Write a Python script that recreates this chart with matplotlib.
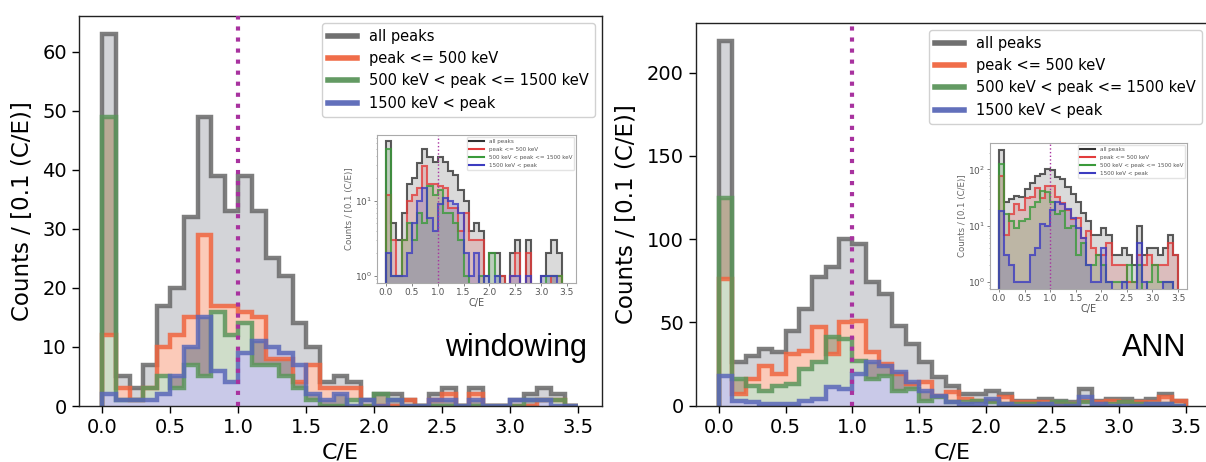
import numpy as np
import matplotlib
matplotlib.use("Agg")
import matplotlib.pyplot as plt
from matplotlib.lines import Line2D
from itertools import combinations

# ---------------- data ----------------
bin_width = 0.1
n_bins = 35
series_labels = ["all peaks", "peak <= 500 keV", "500 keV < peak <= 1500 keV", "1500 keV < peak"]
panel_tags = ["windowing", "ANN"]
ylabel = "Counts / [0.1 (C/E)]"
xlabel = "C/E"
ce_marker = 1.0

win_all = [63, 5, 3, 7, 17, 20, 32, 49, 39, 33, 39, 33, 25, 22, 14, 10, 4, 5, 4, 1,
           2, 2, 1, 0, 2, 3, 0, 3, 0, 0, 1, 2, 3, 2, 0]
win_low = [12, 3, 1, 3, 10, 12, 15, 29, 17, 17, 16, 15, 8, 8, 4, 7, 3, 3, 3, 0,
           0, 0, 1, 0, 1, 2, 0, 2, 0, 0, 0, 0, 1, 1, 0]
win_mid = [49, 1, 1, 3, 5, 3, 7, 5, 16, 12, 14, 7, 7, 5, 3, 1, 0, 0, 1, 0,
           2, 1, 0, 0, 0, 0, 0, 0, 0, 0, 0, 1, 1, 1, 0]
win_high = [2, 1, 1, 1, 2, 5, 10, 15, 6, 4, 9, 11, 10, 9, 7, 2, 1, 2, 0, 1,
            0, 1, 0, 0, 1, 1, 0, 1, 0, 0, 1, 1, 1, 0, 0]

ann_all = [219, 26, 30, 34, 32, 45, 58, 77, 83, 100, 97, 74, 67, 48, 37, 26, 17, 12, 7, 7,
           9, 7, 3, 3, 4, 3, 2, 10, 3, 4, 4, 3, 4, 7, 3]
ann_low = [76, 7, 16, 24, 19, 31, 33, 47, 31, 50, 51, 32, 25, 19, 13, 14, 6, 8, 4, 3,
           3, 5, 2, 2, 2, 1, 1, 3, 2, 3, 2, 2, 2, 5, 3]
ann_mid = [125, 16, 12, 9, 12, 13, 22, 26, 41, 40, 27, 16, 18, 9, 10, 3, 5, 2, 2, 3,
           2, 1, 1, 1, 1, 2, 1, 2, 0, 1, 2, 1, 1, 1, 0]
ann_high = [18, 3, 2, 1, 1, 1, 3, 4, 11, 10, 19, 26, 24, 20, 14, 9, 6, 2, 1, 1,
            4, 1, 0, 0, 1, 0, 0, 5, 1, 0, 0, 0, 1, 1, 0]

# ---------------- style ----------------
EDGE = ["#686868", "#f0653f", "#5b955b", "#5a68b8"]
INSET_EDGE = ["#333333", "#e23c3c", "#3a9a3a", "#3c3cc0"]
REGION = {(): "#d3d4d8", (1,): "#fbcab9", (2,): "#b9aa95", (3,): "#c4c4e0",
          (1, 2): "#cfddc9", (1, 3): "#a6989c", (2, 3): "#b0a8b0",
          (1, 2, 3): "#c9c9e8"}
DOT = "#a8329f"

edges = np.arange(n_bins + 1) * bin_width

plt.rcParams["font.family"] = ["DejaVu Sans"]
fig = plt.figure(figsize=(12.06, 4.62), dpi=100)


def main_panel(rect, hists, tag, tag_xy):
    ax = fig.add_axes(rect)
    hs = [np.asarray(h, float) for h in hists]
    h_all = hs[0]
    parts = [1, 2, 3]
    for r in range(4):
        for S in combinations(parts, r):
            hi = h_all.copy()
            for s in S:
                hi = np.minimum(hi, hs[s])
            lo = np.zeros_like(hi)
            for s in parts:
                if s not in S:
                    lo = np.maximum(lo, hs[s])
            hi = np.maximum(hi, lo)
            ax.stairs(hi, edges, baseline=lo, fill=True, color=REGION[S],
                      lw=0, antialiased=False, zorder=1)
    for h, c in zip(hs, EDGE):
        ax.stairs(h, edges, baseline=0, color=c, lw=3.2, alpha=0.85, zorder=2)
    ax.axvline(ce_marker, color=DOT, ls=":", lw=3, zorder=5)
    ax.set_xlim(-0.05 * edges[-1], edges[-1] * 1.05)
    ax.set_ylim(0, h_all.max() * 1.05)
    ax.set_xticks(np.arange(0, 3.51, 0.5))
    ax.tick_params(labelsize=14, length=5, width=1)
    ax.set_xlabel(xlabel, fontsize=16, labelpad=4)
    ax.set_ylabel(ylabel, fontsize=16.5, labelpad=6)
    for sp in ax.spines.values():
        sp.set_linewidth(1.0)
        sp.set_color("#222222")
    handles = [Line2D([], [], color=c, lw=4, alpha=0.95) for c in EDGE]
    leg = ax.legend(handles, series_labels, loc="upper right", fontsize=10.5,
                    handlelength=2.0, framealpha=0.9, edgecolor="#cccccc")
    leg.set_zorder(6)
    fig.text(tag_xy[0], tag_xy[1], tag, fontsize=22, family="Liberation Sans",
             ha="right", va="baseline")
    return ax


def inset_panel(rect, hists, ylim):
    ax = fig.add_axes(rect)
    ax.set_yscale("log")
    floor = 1e-2
    for h, c in zip(hists, INSET_EDGE):
        v = np.where(np.asarray(h) > 0, np.asarray(h, float), floor)
        ax.stairs(v, edges, baseline=floor, fill=True, color=c, alpha=0.18, lw=0)
    for h, c in zip(hists, INSET_EDGE):
        v = np.where(np.asarray(h) > 0, np.asarray(h, float), floor)
        ax.stairs(v, edges, baseline=floor, color=c, lw=1.5, alpha=0.8)
    ax.axvline(ce_marker, color=DOT, ls=":", lw=1.0)
    ax.set_xlim(-0.05 * edges[-1], edges[-1] * 1.05)
    ax.set_ylim(*ylim)
    ax.set_xticks(np.arange(0, 3.51, 0.5))
    ax.tick_params(labelsize=6.5, length=2, width=0.5, colors="#555555", pad=1.5)
    ax.tick_params(which="minor", length=1, width=0.4, colors="#777777")
    ax.set_xlabel(xlabel, fontsize=7, labelpad=0.5, color="#555555")
    ax.set_ylabel(ylabel, fontsize=6.2, labelpad=1, color="#666666")
    for sp in ax.spines.values():
        sp.set_linewidth(0.8)
        sp.set_color("#aaaaaa")
    handles = [Line2D([], [], color=c, lw=1.5) for c in INSET_EDGE]
    ax.legend(handles, series_labels, loc="upper right", fontsize=4.1,
              handlelength=2.6, framealpha=0.8, edgecolor="#dddddd",
              labelcolor="#555555", borderaxespad=0.3)
    return ax


W, H = 1206.0, 462.0


def rect_px(x0, x1, ytop, ybot):
    return [x0 / W, (H - ybot) / H, (x1 - x0) / W, (ybot - ytop) / H]


main_panel(rect_px(78.7, 602, 15.7, 406),
           [win_all, win_low, win_mid, win_high], panel_tags[0],
           (587 / W, (H - 356) / H))
main_panel(rect_px(695.7, 1209, 22.7, 405.7),
           [ann_all, ann_low, ann_mid, ann_high], panel_tags[1],
           (1186 / W, (H - 356) / H))

inset_panel(rect_px(377, 576, 135, 283), [win_all, win_low, win_mid, win_high], (0.8, 76))
inset_panel(rect_px(990, 1187, 143, 289), [ann_all, ann_low, ann_mid, ann_high], (0.76, 295))

fig.savefig("out.png", dpi=100)
